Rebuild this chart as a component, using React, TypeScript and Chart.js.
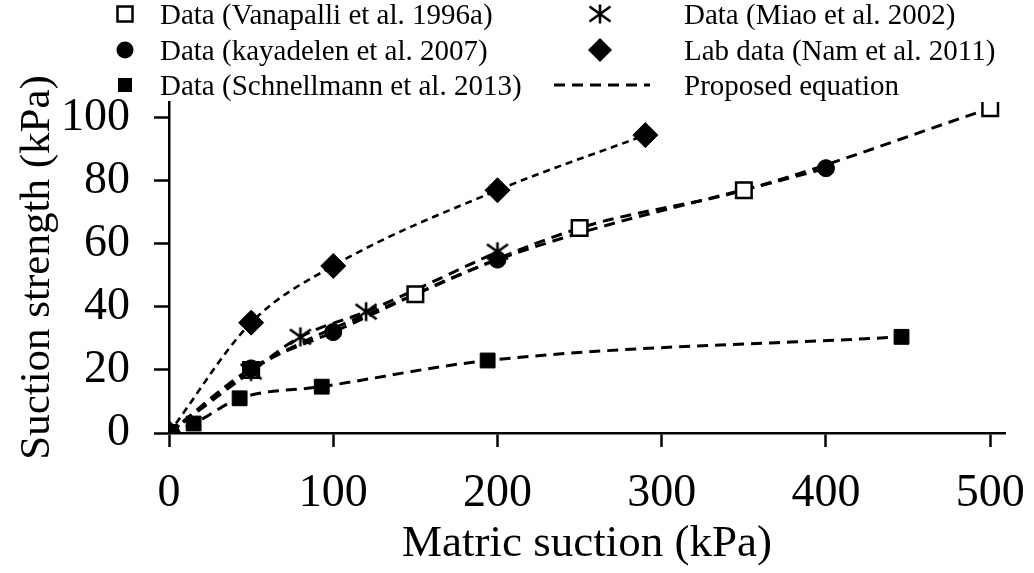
import React, { useEffect, useRef } from 'react';
import { Chart, registerables } from 'chart.js';

Chart.register(...registerables);

// ---- data ----
const vanapalliX = [0, 50, 150, 250, 350, 500];
const vanapalliY = [0, 20, 44, 65, 77, 103];
const kayadelenX = [0, 50, 100, 200, 400];
const kayadelenY = [0, 20.5, 32, 55, 84];
const miaoX = [0, 50, 80, 120, 200];
const miaoY = [0, 19.5, 30.5, 38.5, 57.5];
const namX = [0, 50, 100, 200, 290];
const namY = [0, 35, 53, 77, 94.5];
const schnellX = [0, 15, 43, 93, 194, 446];
const schnellY = [0, 3, 11, 14.7, 23, 30.5];

const xTickValues = [0, 100, 200, 300, 400, 500];
const yTickValues = [0, 20, 40, 60, 80, 100];

const seriesLabels = [
  'Data (Vanapalli et al. 1996a)',
  'Data (Miao et al. 2002)',
  'Data (kayadelen et al. 2007)',
  'Lab data (Nam et al. 2011)',
  'Data (Schnellmann et al. 2013)',
  'Proposed equation',
];
const xTitle = 'Matric suction (kPa)';
const yTitle = 'Suction strength (kPa)';

const FONT = '"Liberation Serif", "Times New Roman", serif';

const pts = (xs: number[], ys: number[]) => xs.map((x, i) => ({ x, y: ys[i] }));

function makeAsterisk(): HTMLCanvasElement {
  const c = document.createElement('canvas');
  c.width = 26;
  c.height = 22;
  const g = c.getContext('2d')!;
  g.strokeStyle = '#000';
  g.lineWidth = 2.6;
  g.lineCap = 'butt';
  const cx = 13, cy = 11;
  g.beginPath();
  g.moveTo(cx, cy - 9.5); g.lineTo(cx, cy + 9.5);
  g.moveTo(cx - 10.5, cy - 7.5); g.lineTo(cx + 10.5, cy + 7.5);
  g.moveTo(cx - 10.5, cy + 7.5); g.lineTo(cx + 10.5, cy - 7.5);
  g.stroke();
  return c;
}

export default function App() {
  const ref = useRef<HTMLCanvasElement | null>(null);

  useEffect(() => {
    if (!ref.current) return;
    const asterisk = makeAsterisk();

    const markerBase = { showLine: false, borderColor: '#000', backgroundColor: '#000' };
    const lineBase = {
      showLine: true,
      pointRadius: 0,
      pointHoverRadius: 0,
      borderColor: '#000',
      backgroundColor: 'transparent',
      borderWidth: 3,
      borderDash: [11, 7],
      cubicInterpolationMode: 'monotone' as const,
      order: 10,
    };

    const legendPlugin = {
      id: 'customLegend',
      afterDraw(chart: any) {
        const ctx = chart.ctx as CanvasRenderingContext2D;
        ctx.save();
        ctx.font = `29px ${FONT}`;
        ctx.fillStyle = '#000';
        ctx.strokeStyle = '#000';
        ctx.textAlign = 'left';
        ctx.textBaseline = 'alphabetic';
        const colMarkerX = [125, 600];
        const colTextX = [160, 684];
        const rowBase = [24, 60, 95];
        seriesLabels.forEach((label, i) => {
          const col = i % 2;
          const row = Math.floor(i / 2);
          const mx = colMarkerX[col];
          const my = rowBase[row] - 10;
          ctx.fillText(label, colTextX[col], rowBase[row]);
          ctx.save();
          if (i === 0) {
            ctx.lineWidth = 2.5;
            ctx.fillStyle = '#fff';
            ctx.fillRect(mx - 7.5, my - 7.5, 15, 15);
            ctx.strokeRect(mx - 7.5, my - 7.5, 15, 15);
          } else if (i === 1) {
            ctx.drawImage(asterisk, mx - asterisk.width / 2, my - asterisk.height / 2);
          } else if (i === 2) {
            ctx.beginPath();
            ctx.arc(mx, my, 8.5, 0, Math.PI * 2);
            ctx.fill();
          } else if (i === 3) {
            ctx.beginPath();
            ctx.moveTo(mx, my - 12);
            ctx.lineTo(mx + 12, my);
            ctx.lineTo(mx, my + 12);
            ctx.lineTo(mx - 12, my);
            ctx.closePath();
            ctx.fill();
          } else if (i === 4) {
            ctx.fillRect(mx - 7, my - 7, 14, 14);
          } else {
            ctx.lineWidth = 3;
            ctx.setLineDash([11, 7]);
            ctx.beginPath();
            ctx.moveTo(mx - 46, my);
            ctx.lineTo(mx + 50, my);
            ctx.stroke();
          }
          ctx.restore();
        });
        ctx.restore();
      },
    };

    const tickFont = { family: FONT, size: 46 };
    const titleFont = { family: FONT, size: 45 };

    const chart = new Chart(ref.current, {
      type: 'scatter',
      data: {
        datasets: [
          { ...markerBase, label: seriesLabels[1], data: pts(miaoX, miaoY), pointStyle: asterisk as any, pointRadius: 11, order: 1 },
          { ...markerBase, label: seriesLabels[2], data: pts(kayadelenX, kayadelenY), pointStyle: 'circle', pointRadius: 8.5, order: 2 },
          { ...markerBase, label: seriesLabels[3], data: pts(namX, namY), pointStyle: 'rectRot', pointRadius: 12.5, order: 3 },
          { ...markerBase, label: seriesLabels[4], data: pts(schnellX, schnellY), pointStyle: 'rect', pointRadius: 10.5, order: 4 },
          { ...markerBase, label: seriesLabels[0], data: pts(vanapalliX, vanapalliY), pointStyle: 'rect', pointRadius: 11, backgroundColor: '#fff', borderWidth: 2.5, order: 5 },
          { ...lineBase, label: 'eq-vanapalli', data: pts(vanapalliX, vanapalliY) },
          { ...lineBase, label: 'eq-kayadelen', data: pts(kayadelenX, kayadelenY) },
          { ...lineBase, label: 'eq-miao', data: pts(miaoX, miaoY) },
          { ...lineBase, label: 'eq-nam', data: pts(namX, namY), borderWidth: 2.6, borderDash: [7, 5] },
          { ...lineBase, label: 'eq-schnell', data: pts(schnellX, schnellY) },
        ] as any,
      },
      options: {
        animation: false,
        responsive: false,
        maintainAspectRatio: false,
        layout: { padding: { top: 102, right: 29, left: 0, bottom: 0 } },
        plugins: { legend: { display: false }, tooltip: { enabled: false } },
        scales: {
          x: {
            type: 'linear',
            min: 0,
            max: 509,
            afterBuildTicks: (s: any) => { s.ticks = xTickValues.map((v) => ({ value: v })); },
            afterFit: (s: any) => { s.height = 140; s.paddingLeft = 0; s.paddingRight = 0; },
            grid: { display: true, drawOnChartArea: false, drawTicks: true, tickLength: 14, tickWidth: 2.5, tickColor: '#000' },
            border: { display: true, color: '#000', width: 2.5 },
            ticks: { color: '#000', font: tickFont, padding: 19, maxRotation: 0, autoSkip: false },
            title: { display: true, text: xTitle, color: '#000', font: titleFont, padding: { top: 0, bottom: 2 } },
          },
          y: {
            type: 'linear',
            min: 0,
            max: 105,
            afterBuildTicks: (s: any) => { s.ticks = yTickValues.map((v) => ({ value: v })); },
            afterFit: (s: any) => { s.width = 169; },
            grid: { display: true, drawOnChartArea: false, drawTicks: true, tickLength: 15, tickWidth: 2.5, tickColor: '#000' },
            border: { display: true, color: '#000', width: 2.5 },
            ticks: { color: '#000', font: tickFont, padding: 24, autoSkip: false },
            title: { display: true, text: yTitle, color: '#000', font: { family: FONT, size: 43 }, padding: { top: 12, bottom: 0 } },
          },
        },
      },
      plugins: [legendPlugin],
    } as any);

    return () => chart.destroy();
  }, []);

  return (
    <div style={{ position: 'absolute', left: 0, top: 0, width: 1034, height: 573, background: '#fff' }}>
      <canvas ref={ref} width={1034} height={573} style={{ display: 'block' }} />
    </div>
  );
}
